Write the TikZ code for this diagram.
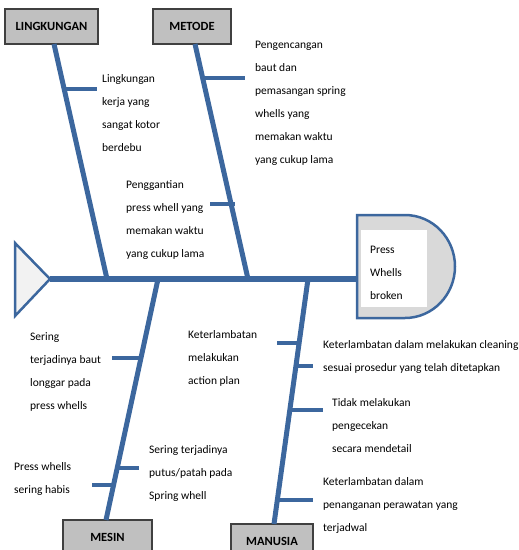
\documentclass[tikz,border=0pt]{standalone}
\usepackage{fontspec}
\setmainfont{Carlito}
\definecolor{bonec}{RGB}{60,103,158}
\definecolor{boxgray}{RGB}{192,192,192}
\definecolor{boxline}{RGB}{64,64,64}
\definecolor{headgray}{RGB}{217,217,217}
\definecolor{tailgray}{RGB}{242,242,242}
\begin{document}
\begin{tikzpicture}[x=1pt,y=-1pt,
  catbox/.style={draw=boxline, fill=boxgray, line width=1.2pt, inner sep=0pt,
    minimum height=35pt, font=\bfseries\fontsize{12.5}{14}\selectfont},
  bone/.style={draw=bonec, line width=5pt},
  spine/.style={draw=bonec, line width=6pt},
  rib/.style={draw=bonec, line width=4.5pt},
  cause/.style={align=left, anchor=base west, inner sep=0pt,
    font=\fontsize{11.5}{23}\selectfont}]
\useasboundingbox (0,0) rectangle (519,550);

% category boxes
\node[catbox, minimum width=93pt] (lk) at (51.5,26.5) {LINGKUNGAN};
\node[catbox, minimum width=78pt] (me) at (192,26.5) {METODE};
\node[catbox, minimum width=89pt] (ms) at (107.5,537.5) {MESIN};
\node[catbox, minimum width=82pt] (mn) at (272,541.5) {MANUSIA};

% tail and head
\draw[draw=bonec, fill=tailgray, line width=2.5pt, line join=miter]
  (15,243) -- (50,279) -- (15,316) -- cycle;
\coordinate (tailtip) at (50,279);
\draw[draw=bonec, fill=headgray, line width=2.5pt]
  (357,215) -- (405,215) .. controls (432.6,215) and (455,238.1) .. (455,266.5)
  .. controls (455,294.9) and (432.6,318) .. (405,318) -- (357,318) -- cycle;
\coordinate (headin) at (357,279);
\fill[white] (361,230) rectangle (427,307);
\node[cause] (t4) at (370,299) {Press\\Whells\\broken};

% spine junctions
\coordinate (jL) at (107,279);
\coordinate (jM) at (248,279);
\coordinate (jS) at (158,279);
\coordinate (jH) at (308,279);
\coordinate (lkb) at (54,44);
\coordinate (meb) at (195,44);
\coordinate (msb) at (106,520);
\coordinate (mnb) at (274,524);

\draw[spine] (tailtip) -- (headin);
\draw[bone] (lkb) -- (jL);
\draw[bone] (meb) -- (jM);
\draw[bone] (jS) -- (msb);
\draw[bone] (jH) -- (mnb);

% ribs
\coordinate (r1a) at (64,89);   \coordinate (r1b) at (97,89);
\coordinate (r2a) at (203,78);  \coordinate (r2b) at (245,78);
\coordinate (r3a) at (210,204); \coordinate (r3b) at (235,204);
\coordinate (r4a) at (112,358); \coordinate (r4b) at (141,358);
\coordinate (r5a) at (117,468); \coordinate (r5b) at (139,468);
\coordinate (r6a) at (92,485);  \coordinate (r6b) at (115,485);
\coordinate (r7a) at (277,343); \coordinate (r7b) at (300,343);
\coordinate (r8a) at (296,366); \coordinate (r8b) at (313,366);
\coordinate (r9a) at (290,410); \coordinate (r9b) at (323,410);
\coordinate (r10a) at (277,500); \coordinate (r10b) at (313,500);
\foreach \i in {1,...,10} {\draw[rib] (r\i a) -- (r\i b);}

% cause texts (anchor = baseline of the last line)
\node[cause] (t1) at (102,151) {Lingkungan\\kerja yang\\sangat kotor\\berdebu};
\node[cause] (t2) at (255,163) {Pengencangan\\baut dan\\pemasangan spring\\whells yang\\memakan waktu\\yang cukup lama};
\node[cause] (t3) at (126,257) {Penggantian\\press whell yang\\memakan waktu\\yang cukup lama};
\node[cause] (t5) at (30,409) {Sering\\terjadinya baut\\longgar pada\\press whells};
\node[cause] (t6) at (188,384) {Keterlambatan\\melakukan\\action plan};
\node[cause] (t7) at (149,499) {Sering terjadinya\\putus/patah pada\\Spring whell};
\node[cause] (t8) at (14,493) {Press whells\\sering habis};
\node[cause] (t9) at (323,371) {Keterlambatan dalam melakukan cleaning\\sesuai prosedur yang telah ditetapkan};
\node[cause] (t10) at (332,452) {Tidak melakukan\\pengecekan\\secara mendetail};
\node[cause] (t11) at (323,531) {Keterlambatan dalam\\penanganan perawatan yang\\terjadwal};
\end{tikzpicture}
\end{document}
